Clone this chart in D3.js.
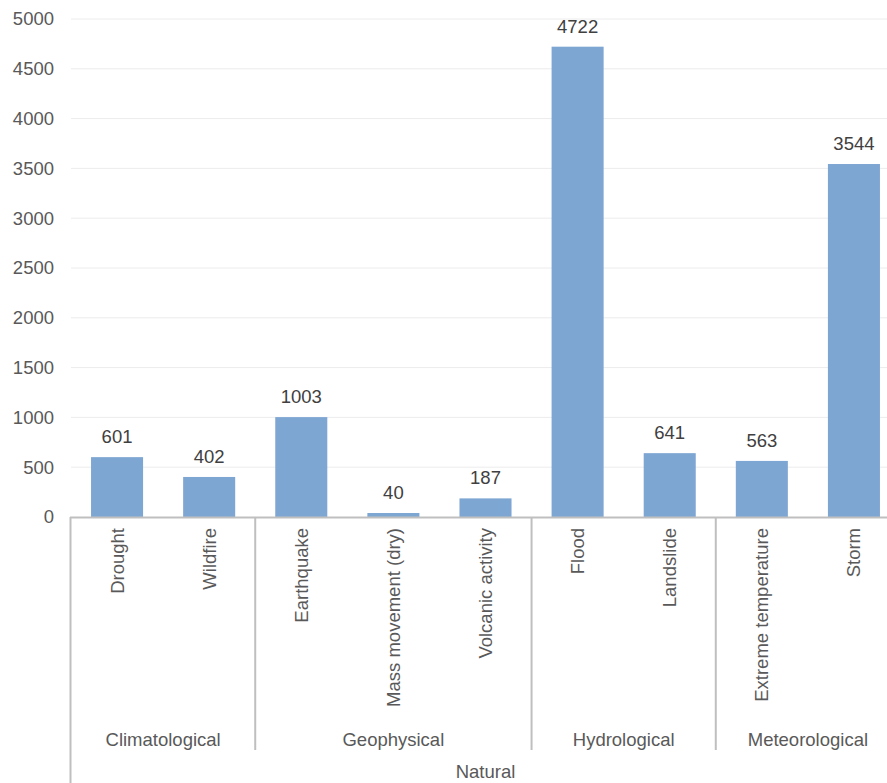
<!DOCTYPE html>
<html>
<head>
<meta charset="utf-8">
<script src="https://cdn.jsdelivr.net/npm/d3@7"></script>
<style>
  body { margin: 0; background: #fff; }
  svg { display: block; font-family: "Liberation Sans", Arial, sans-serif; }
</style>
</head>
<body>
<svg width="887" height="783"></svg>
<script>
var categories = ["Drought", "Wildfire", "Earthquake", "Mass movement (dry)", "Volcanic activity",
                  "Flood", "Landslide", "Extreme temperature", "Storm"];
var values = [601, 402, 1003, 40, 187, 4722, 641, 563, 3544];
var groups = [
  {name: "Climatological", from: 0, to: 1},
  {name: "Geophysical", from: 2, to: 4},
  {name: "Hydrological", from: 5, to: 6},
  {name: "Meteorological", from: 7, to: 8}
];
var topLabel = "Natural";
var yTicks = [0, 500, 1000, 1500, 2000, 2500, 3000, 3500, 4000, 4500, 5000];

var width = 887;
var height = 783;
var margin = {left: 71, right: -13, top: 19, axis: 517};
var fontSize = "18.5px";

var svg = d3.select("svg");

var x = d3.scaleBand().domain(categories).range([margin.left, width - margin.right]).paddingInner(0.435).paddingOuter(0.2175);
var y = d3.scaleLinear().domain([0, 5000]).range([margin.axis, margin.top]);
var step = x.step();

// grid lines
svg.append("g")
  .selectAll("line")
  .data(yTicks.slice(1))
  .enter()
  .append("line")
  .attr("x1", margin.left)
  .attr("x2", width)
  .attr("y1", function(d) { return y(d); })
  .attr("y2", function(d) { return y(d); })
  .attr("stroke", "#ececec")
  .attr("stroke-width", 1);

// y axis labels
var axisLeft = d3.axisLeft(y).tickValues(yTicks).tickFormat(d3.format("d")).tickSize(0).tickPadding(17);
var gy = svg.append("g")
  .attr("transform", "translate(" + margin.left + ",0)")
  .call(axisLeft);
gy.select(".domain").remove();
gy.selectAll("text")
  .attr("fill", "#595959")
  .style("font-size", fontSize)
  .style("font-family", "Liberation Sans, Arial, sans-serif");

// bars
svg.append("g")
  .selectAll("rect")
  .data(values)
  .enter()
  .append("rect")
  .attr("x", function(d, i) { return x(categories[i]); })
  .attr("width", x.bandwidth())
  .attr("y", function(d) { return y(d); })
  .attr("height", function(d) { return y(0) - y(d); })
  .attr("fill", "#7ea6d3");

// value labels
svg.append("g")
  .selectAll("text")
  .data(values)
  .enter()
  .append("text")
  .attr("x", function(d, i) { return x(categories[i]) + x.bandwidth() / 2; })
  .attr("y", function(d) { return y(d) - 14; })
  .attr("text-anchor", "middle")
  .attr("fill", "#404040")
  .style("font-size", fontSize)
  .text(function(d) { return d; });

// axis line
svg.append("line")
  .attr("x1", margin.left - 1)
  .attr("x2", width)
  .attr("y1", y(0) + 0.5)
  .attr("y2", y(0) + 0.5)
  .attr("stroke", "#bfbfbf")
  .attr("stroke-width", 2);

// left axis line through labels
svg.append("line")
  .attr("x1", margin.left - 0.5)
  .attr("x2", margin.left - 0.5)
  .attr("y1", y(0))
  .attr("y2", height)
  .attr("stroke", "#bfbfbf")
  .attr("stroke-width", 2);

// group separators
svg.append("g")
  .selectAll("line")
  .data(groups.slice(1))
  .enter()
  .append("line")
  .attr("x1", function(d) { return x(categories[d.from]) - (step - x.bandwidth()) / 2; })
  .attr("x2", function(d) { return x(categories[d.from]) - (step - x.bandwidth()) / 2; })
  .attr("y1", y(0))
  .attr("y2", 750)
  .attr("stroke", "#bfbfbf")
  .attr("stroke-width", 2);

// category labels
svg.append("g")
  .selectAll("text")
  .data(categories)
  .enter()
  .append("text")
  .attr("transform", function(d) {
    return "translate(" + (x(d) + x.bandwidth() / 2 + 6.5) + "," + (y(0) + 11) + ") rotate(-90)";
  })
  .attr("text-anchor", "end")
  .attr("fill", "#595959")
  .style("font-size", fontSize)
  .text(function(d) { return d; });

// group labels
svg.append("g")
  .selectAll("text")
  .data(groups)
  .enter()
  .append("text")
  .attr("x", function(d) {
    var a = x(categories[d.from]) - (step - x.bandwidth()) / 2;
    var b = x(categories[d.to]) + x.bandwidth() + (step - x.bandwidth()) / 2;
    return (a + b) / 2;
  })
  .attr("y", 746)
  .attr("text-anchor", "middle")
  .attr("fill", "#595959")
  .style("font-size", fontSize)
  .text(function(d) { return d.name; });

svg.append("text")
  .attr("x", (margin.left + width - margin.right) / 2)
  .attr("y", 778)
  .attr("text-anchor", "middle")
  .attr("fill", "#595959")
  .style("font-size", fontSize)
  .text(topLabel);
</script>
</body>
</html>
